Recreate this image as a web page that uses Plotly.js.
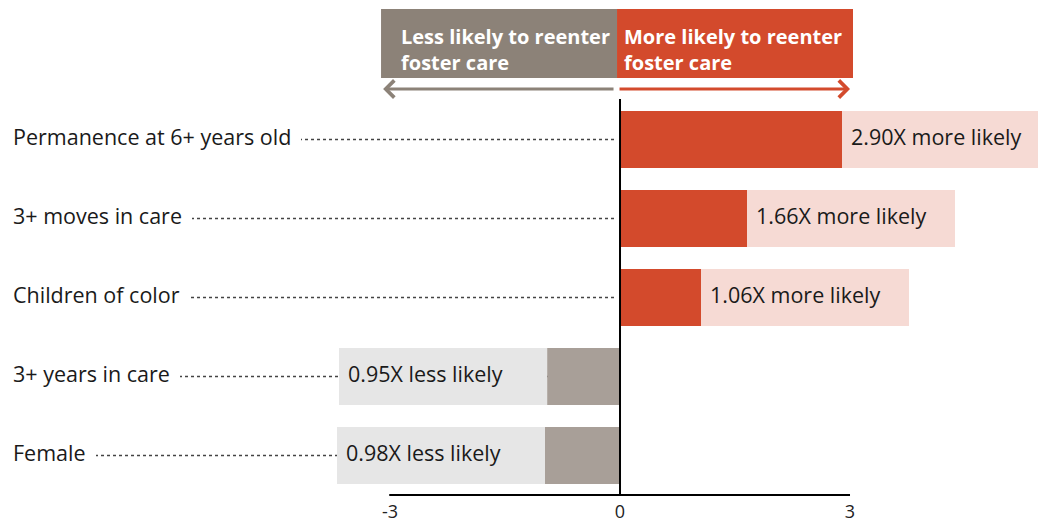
<!DOCTYPE html>
<html>
<head>
<meta charset="utf-8">
<script src="https://cdn.plot.ly/plotly-3.0.1.min.js"></script>
<style>html,body{margin:0;padding:0;background:#fff}#chart{width:1038px;height:522px}</style>
</head>
<body>
<div id="chart"></div>
<script>
// ---- data ----
var categories = ["Permanence at 6+ years old", "3+ moves in care", "Children of color", "3+ years in care", "Female"];
var ratios = [2.90, 1.66, 1.06, 0.95, 0.98];
var directions = ["more", "more", "more", "less", "less"];
var tickValues = [-3, 0, 3];
var tickLabels = ["-3", "0", "3"];
var headerLess = "Less likely to reenter<br>foster care";
var headerMore = "More likely to reenter<br>foster care";

// ---- styles ----
var RED = "#d34a2c", RED_LIGHT = "#f6dad4";
var GRAY_HEAD = "#8c8278", GRAY_BAR = "#a89f98", GRAY_LIGHT = "#e6e6e6";
var FONT = "Open Sans, Noto Sans, sans-serif";
var XMIN = -8.087, XMAX = 5.452;

var signed = ratios.map(function (v, i) { return directions[i] === "less" ? -v : v; });

var bars = {
  type: "bar", orientation: "h",
  x: signed, y: categories,
  width: 0.72,
  marker: { color: directions.map(function (d) { return d === "less" ? GRAY_BAR : RED; }), line: { width: 0 } },
  hoverinfo: "skip"
};

var annotations = [];
var shapes = [];

categories.forEach(function (c, i) {
  var less = directions[i] === "less";
  // value label background box
  annotations.push({
    x: signed[i], y: c, xref: "x", yref: "y",
    xanchor: less ? "right" : "left", yanchor: "middle",
    text: "\u00a0", showarrow: false,
    width: 190, height: 39, borderpad: 9, borderwidth: 0,
    bgcolor: less ? GRAY_LIGHT : RED_LIGHT,
    font: { family: FONT, size: 21.5, color: "#1a1a1a" }
  });
  // value label text
  annotations.push({
    x: signed[i], y: c, xref: "x", yref: "y",
    xanchor: less ? "right" : "left", yanchor: "middle", yshift: 3,
    text: ratios[i].toFixed(2) + "X " + (less ? "less likely" : "more likely"),
    showarrow: false, align: "left",
    width: 190, borderpad: 9, borderwidth: 0,
    font: { family: FONT, size: 21.5, color: "#1a1a1a" }
  });
  // category labels with white mask
  annotations.push({
    x: 3 / 1038, y: c, xref: "paper", yref: "y",
    xanchor: "left", yanchor: "middle", yshift: 3,
    text: c, showarrow: false, align: "left",
    borderpad: 10, borderwidth: 0, bgcolor: "#ffffff",
    font: { family: FONT, size: 21.5, color: "#1a1a1a" }
  });
  // dotted leader
  shapes.push({
    type: "line", layer: "below", xref: "x", yref: "y",
    x0: XMIN + 0.3, x1: -0.07, y0: c, y1: c,
    line: { color: "#444", width: 1.5, dash: "dot" }
  });
});

// zero line
shapes.push({ type: "line", xref: "x", yref: "paper", x0: 0, x1: 0, y0: 0, y1: 1.0025, line: { color: "#000", width: 2 } });
// axis line
shapes.push({ type: "line", xref: "x", yref: "paper", x0: tickValues[0] - 0.01, x1: tickValues[2], y0: 0, y1: 0, line: { color: "#000", width: 2 } });
// header boxes
shapes.push({ type: "rect", xref: "x", yref: "paper", x0: -3.117, x1: -0.039, y0: 1.0557, y1: 1.2304, fillcolor: GRAY_HEAD, line: { width: 0 } });
shapes.push({ type: "rect", xref: "x", yref: "paper", x0: -0.039, x1: 3.039, y0: 1.0557, y1: 1.2304, fillcolor: RED, line: { width: 0 } });

// header texts
annotations.push({ x: -2.88, y: 1.143, xref: "x", yref: "paper", xanchor: "left", yanchor: "middle", align: "left", showarrow: false, yshift: -6,
  text: "<b>" + headerLess + "</b>", font: { family: FONT, size: 20, color: "#fff" } });
annotations.push({ x: 0.02, y: 1.143, xref: "x", yref: "paper", xanchor: "left", yanchor: "middle", align: "left", showarrow: false, yshift: -6,
  text: "<b>" + headerMore + "</b>", font: { family: FONT, size: 20, color: "#fff" } });
// arrows
annotations.push({ x: -3.09, y: 1.0278, xref: "x", yref: "paper", text: "", showarrow: true,
  axref: "x", ax: -0.065, ayref: "pixel", ay: 0, arrowhead: 4, arrowsize: 1.1, arrowwidth: 3, arrowcolor: GRAY_HEAD, standoff: 0 });
annotations.push({ x: 3.0, y: 1.0278, xref: "x", yref: "paper", text: "", showarrow: true,
  axref: "x", ax: -0.026, ayref: "pixel", ay: 0, arrowhead: 4, arrowsize: 1.1, arrowwidth: 3, arrowcolor: RED, standoff: 0 });

var layout = {
  width: 1038, height: 522,
  margin: { l: 0, r: 0, t: 100, b: 27, pad: 0 },
  paper_bgcolor: "#fff", plot_bgcolor: "#fff",
  showlegend: false,
  barmode: "overlay",
  xaxis: {
    range: [XMIN, XMAX], showgrid: false, zeroline: false, showline: false,
    tickmode: "array", tickvals: tickValues, ticktext: tickLabels,
    ticks: "", ticklabelstandoff: 4, tickfont: { family: FONT, size: 18, color: "#222" }, fixedrange: true
  },
  yaxis: {
    type: "category", categoryorder: "array", categoryarray: categories,
    range: [categories.length - 0.5, -0.5],
    showgrid: false, zeroline: false, showline: false, showticklabels: false, ticks: "", fixedrange: true
  },
  shapes: shapes,
  annotations: annotations
};

Plotly.newPlot("chart", [bars], layout, { displayModeBar: false, staticPlot: true });
</script>
</body>
</html>
